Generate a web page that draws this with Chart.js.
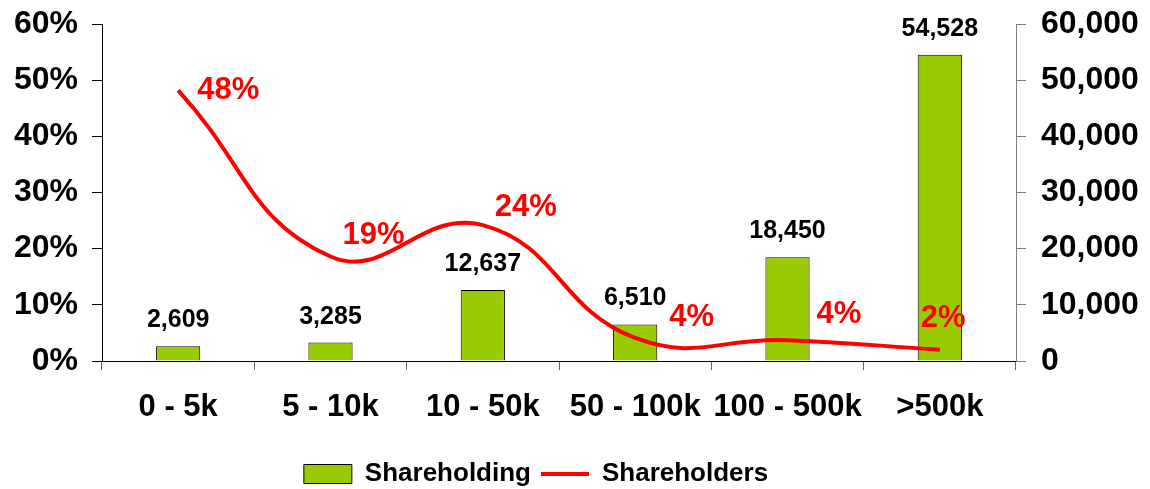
<!DOCTYPE html>
<html>
<head>
<meta charset="utf-8">
<script src="https://cdn.jsdelivr.net/npm/chart.js@4.4.0/dist/chart.umd.min.js"></script>
<style>
  html, body { margin: 0; padding: 0; background: #fff; }
  #wrap { width: 1150px; height: 489px; }
</style>
</head>
<body>
<div id="wrap"><canvas id="myChart"></canvas></div>
<script>
// chart data
const categories = ['0 - 5k', '5 - 10k', '10 - 50k', '50 - 100k', '100 - 500k', '>500k']
const shareholding = [2609, 3285, 12637, 6510, 18450, 54528]
const shareholdersPct = [48.2, 18.6, 24.2, 4.1, 3.7, 2.0]
const pctTicks = [0, 10, 20, 30, 40, 50, 60]
const countTicks = [0, 10000, 20000, 30000, 40000, 50000, 60000]

// nudges for the red labels, [dx, dy] from the point
const pctLabelOffset = [[19, 0], [12, -21], [12, -18], [34, -21], [29, -26], [-19, -31]]

const FONT = "'Liberation Sans', Arial, sans-serif"

const valueLabels = {
    id: 'valueLabels',
    beforeDraw(chart) {
        // legend sits a bit left of centre and lower in the original
        const lg = chart.legend
        if (lg && !lg._moved) {
            lg.left -= 39; lg.right -= 39
            lg.top += 8; lg.bottom += 8
            lg._moved = true
        }
    },
    afterDatasetsDraw(chart) {
        const ctx = chart.ctx
        ctx.save()
        // bar labels
        let meta = chart.getDatasetMeta(1)
        ctx.fillStyle = '#000'
        ctx.font = 'bold 25px ' + FONT
        ctx.textAlign = 'center'
        ctx.textBaseline = 'alphabetic'
        meta.data.forEach((bar, i) => {
            ctx.fillText(shareholding[i].toLocaleString('en-US'), bar.x, bar.y - 19)
        })
        // line labels
        meta = chart.getDatasetMeta(0)
        ctx.fillStyle = '#FF0000'
        ctx.font = 'bold 31px ' + FONT
        ctx.textAlign = 'left'
        ctx.textBaseline = 'middle'
        meta.data.forEach((pt, i) => {
            const off = pctLabelOffset[i]
            ctx.fillText(Math.round(shareholdersPct[i]) + '%', pt.x + off[0], pt.y + off[1])
        })
        ctx.restore()
    }
}

function fitY(width) {
    return (s) => {
        s.width = width
        s.paddingTop = 0
        s.paddingBottom = 0
    }
}

function renderChart() {
    const data = {
        labels: categories,
        datasets: [{
            type: 'line',
            label: 'Shareholders',
            data: shareholdersPct,
            yAxisID: 'y',
            borderColor: '#FF0000',
            backgroundColor: '#FF0000',
            borderWidth: 4,
            pointRadius: 0,
            tension: 0.45,
            pointStyle: 'line',
            order: 0
        }, {
            type: 'bar',
            label: 'Shareholding',
            data: shareholding,
            yAxisID: 'y1',
            backgroundColor: '#99CC00',
            borderColor: '#000',
            borderWidth: 1,
            barPercentage: 0.29,
            categoryPercentage: 1,
            pointStyle: 'rect',
            order: 1
        }]
    }

    const config = {
        data,
        options: {
            responsive: true,
            maintainAspectRatio: false,
            animation: false,
            layout: { padding: { top: 24, left: 0, right: 0, bottom: 0 } },
            plugins: {
                tooltip: { enabled: false },
                legend: {
                    position: 'bottom',
                    labels: {
                        usePointStyle: true,
                        pointStyleWidth: 48,
                        boxHeight: 19,
                        padding: 10,
                        color: '#000',
                        font: { family: FONT, size: 26, weight: 'bold' },
                        sort: (a, b) => b.datasetIndex - a.datasetIndex
                    }
                }
            },
            scales: {
                x: {
                    grid: { offset: true, drawOnChartArea: false, tickLength: 9, color: '#666' },
                    border: { color: '#000', width: 1 },
                    ticks: { color: '#000', padding: 19, font: { family: FONT, size: 31, weight: 'bold' }, maxRotation: 0, autoSkip: false },
                    afterFit: (s) => { s.height = 82 }
                },
                y: {
                    position: 'left',
                    min: 0, max: 60,
                    afterBuildTicks: (s) => { s.ticks = pctTicks.map(v => ({ value: v })) },
                    grid: { drawOnChartArea: false, tickLength: 10, color: '#000' },
                    border: { color: '#000', width: 1 },
                    ticks: { color: '#000', padding: 14, font: { family: FONT, size: 32, weight: 'bold' }, callback: v => v + '%' },
                    afterFit: fitY(102)
                },
                y1: {
                    position: 'right',
                    min: 0, max: 60000,
                    afterBuildTicks: (s) => { s.ticks = countTicks.map(v => ({ value: v })) },
                    grid: { drawOnChartArea: false, tickLength: 10, color: '#808080' },
                    border: { color: '#808080', width: 1 },
                    ticks: { color: '#000', padding: 15, font: { family: FONT, size: 32, weight: 'bold' }, callback: v => v.toLocaleString('en-US') },
                    afterFit: fitY(134)
                }
            }
        },
        plugins: [valueLabels]
    }

    new Chart(document.getElementById('myChart'), config)
}

renderChart()
</script>
</body>
</html>
